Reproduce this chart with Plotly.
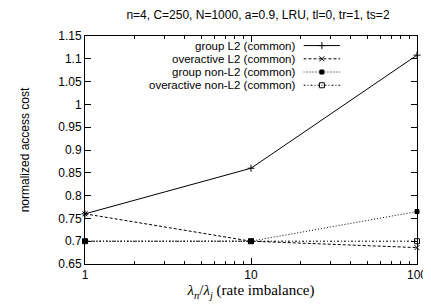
import plotly.graph_objects as go

rate_imbalance = [1, 10, 100]
group_l2 = [0.76, 0.86, 1.108]
overactive_l2 = [0.76, 0.70, 0.686]
group_non_l2 = [0.70, 0.70, 0.765]
overactive_non_l2 = [0.70, 0.70, 0.70]

series_names = ["group L2 (common)", "overactive L2 (common)",
                "group non-L2 (common)", "overactive non-L2 (common)"]
series_values = [group_l2, overactive_l2, group_non_l2, overactive_non_l2]
dashes = ["solid", "3px,2px", "1px,2px", "2px,2px,1px,2px"]
symbols = ["cross-thin", "x-thin", "square", "square-open"]
msizes = [5, 5, 4, 5]

y_ticks = [0.65, 0.7, 0.75, 0.8, 0.85, 0.9, 0.95, 1.0, 1.05, 1.1, 1.15]
y_ticklabels = ["0.65", "0.7", "0.75", "0.8", "0.85", "0.9", "0.95", "1", "1.05", "1.1", "1.15"]
x_ticks = [1, 10, 100]
x_ticklabels = ["1", "10", "100"]
x_minor = [2, 3, 4, 5, 6, 7, 8, 9, 20, 30, 40, 50, 60, 70, 80, 90]

fig = go.Figure()
for name, vals, d, s, ms in zip(series_names, series_values, dashes, symbols, msizes):
    fig.add_trace(go.Scatter(
        x=rate_imbalance, y=vals, mode="lines+markers", name=name,
        line=dict(color="black", width=1, dash=d),
        marker=dict(symbol=s, size=ms, color="black",
                    line=dict(color="black", width=1)),
        cliponaxis=False, showlegend=False))

# custom gnuplot-style legend (text left, sample right)
row_y = [0.958, 0.9, 0.842, 0.784]
for i, (name, d, s, ms) in enumerate(zip(series_names, dashes, symbols, msizes)):
    fig.add_trace(go.Scatter(
        x=[0, 1], y=[row_y[i], row_y[i]], xaxis="x2", yaxis="y2",
        mode="lines", line=dict(color="black", width=1, dash=d),
        showlegend=False, hoverinfo="skip"))
    fig.add_trace(go.Scatter(
        x=[0.5], y=[row_y[i]], xaxis="x2", yaxis="y2",
        mode="markers", marker=dict(symbol=s, size=ms, color="black",
                                    line=dict(color="black", width=1)),
        showlegend=False, hoverinfo="skip"))
    fig.add_annotation(x=0.0, y=row_y[i], xref="x2", yref="y2",
                       text=name, showarrow=False, xanchor="right",
                       xshift=-5, font=dict(size=11.5, color="black",
                                            family="Liberation Sans, Arial"))

fig.update_layout(
    width=431, height=308,
    margin=dict(l=77, r=12, t=28, b=52),
    paper_bgcolor="white", plot_bgcolor="rgba(0,0,0,0)",
    font=dict(family="Liberation Sans, Arial", size=12, color="black"),
    title=dict(text="n=4, C=250, N=1000, a=0.9, LRU, tl=0, tr=1, ts=2",
               x=0.58, xanchor="center", y=0.99, yanchor="top",
               font=dict(size=12)),
    xaxis=dict(type="log", range=[0, 2], tickvals=x_ticks, ticktext=x_ticklabels,
               ticks="inside", ticklen=6, tickcolor="black", mirror="ticks",
               showline=True, linecolor="black", linewidth=1,
               showgrid=False, zeroline=False,
               minor=dict(tickvals=x_minor, ticks="inside", ticklen=3,
                          tickcolor="black", showgrid=False),
               title=dict(text="<i>λ</i><sub><i>n</i></sub>/<i>λ</i><sub><i>j</i></sub> (rate imbalance)",
                          font=dict(family="Liberation Serif, Times New Roman", size=15),
                          standoff=3)),
    yaxis=dict(range=[0.65, 1.15], tickvals=y_ticks, ticktext=y_ticklabels,
               ticks="inside", ticklen=6, tickcolor="black", mirror="ticks",
               showline=True, linecolor="black", linewidth=1,
               showgrid=False, zeroline=False,
               title=dict(text="normalized access cost", font=dict(size=12),
                          standoff=26)),
    xaxis2=dict(domain=[0.658, 0.769], range=[0, 1], visible=False,
                anchor="y2"),
    yaxis2=dict(domain=[0, 1], range=[0, 1], visible=False, anchor="x2"),
)

fig.write_html("out.html")
